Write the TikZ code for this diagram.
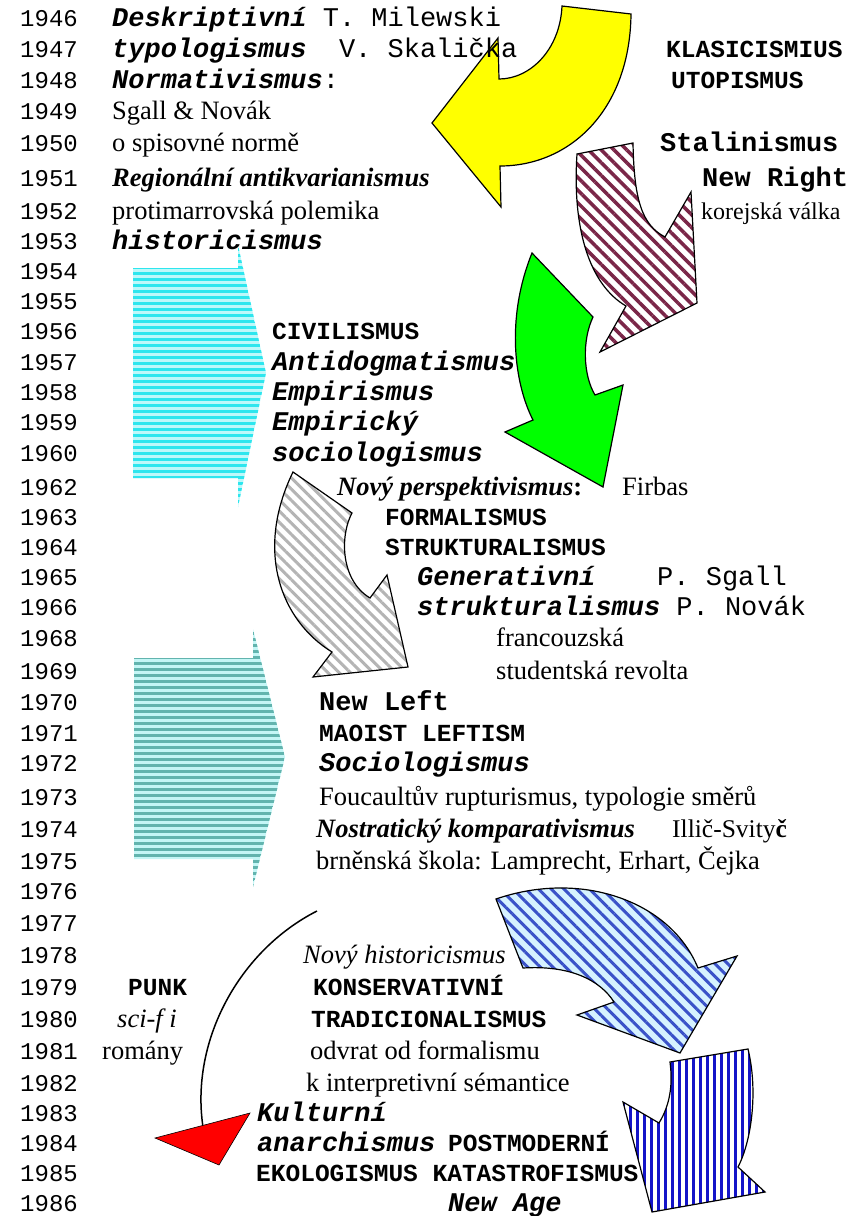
\documentclass[tikz,border=0pt]{standalone}
\usepackage{fontspec}
\setmainfont{Liberation Serif}
\setmonofont{Liberation Mono}
\usetikzlibrary{patterns.meta}

\definecolor{yell}{HTML}{FFFF00}
\definecolor{maroon}{HTML}{7A2648}
\definecolor{grn}{HTML}{00FF00}
\definecolor{stripegray}{HTML}{B4B4B4}
\definecolor{diagblue}{HTML}{3A52C8}
\definecolor{diagback}{HTML}{D6F2FF}
\definecolor{vertblue}{HTML}{1414C8}
\definecolor{cyanstripe}{HTML}{2EE6EE}
\definecolor{cyanback}{HTML}{BDF8FA}
\definecolor{tealstripe}{HTML}{62B4AE}
\definecolor{tealback}{HTML}{C4F6F6}
\definecolor{redhead}{HTML}{FF0000}

\newcommand{\bi}[1]{\textbf{\textit{#1}}}

\tikzset{
 yr/.style={anchor=base west,inner sep=0pt,font=\ttfamily\fontsize{24}{28}\selectfont},
 serif/.style={anchor=base west,inner sep=0pt,font=\rmfamily\fontsize{26.5}{30}\selectfont},
 mono/.style={anchor=base west,inner sep=0pt,font=\ttfamily\fontsize{27}{30}\selectfont},
 caps/.style={anchor=base west,inner sep=0pt,font=\ttfamily\bfseries\fontsize{24.5}{28}\selectfont},
 big/.style={anchor=base west,inner sep=0pt,font=\ttfamily\bfseries\fontsize{27}{30}\selectfont},
 outline/.style={draw=black,line width=1.2pt,line join=miter},
}

\begin{document}
\begin{tikzpicture}[x=1pt,y=-1pt]
 \useasboundingbox (0,0) rectangle (850,1216);
 % arrows
 \draw[outline,fill=yell](562,6)--(631,14) .. controls (630,110) and (570,166) .. (500,166)--(501,207)--(432,123)--(498,38)--(499,79) .. controls (530,79) and (560,50) .. (562,6)--cycle;
 \draw[outline,preaction={fill=white},pattern={Lines[angle=-45,distance=9pt,line width=3.5pt]},pattern color=maroon](577,154)--(633,143) .. controls (634,200) and (642,225) .. (665,237)--(691,192)--(697,303)--(600,352)--(626,306) .. controls (590,285) and (572,230) .. (577,154)--cycle;
 \draw[outline,fill=grn](532,253)--(593,317) .. controls (582,340) and (583,375) .. (595,395)--(623,385)--(603,487)--(505,432)--(533,420) .. controls (515,385) and (505,320) .. (532,253)--cycle;
 \draw[outline,preaction={fill=white},pattern={Lines[angle=-45,distance=8pt,line width=3pt]},pattern color=stripegray](293,472)--(352,513) .. controls (340,535) and (340,580) .. (370,598)--(387,575)--(408,667)--(313,677)--(332,652) .. controls (280,620) and (255,550) .. (293,472)--cycle;
 \draw[outline,preaction={fill=diagback},pattern={Lines[angle=-45,distance=9pt,line width=3pt]},pattern color=diagblue](496,899) .. controls (580,870) and (670,900) .. (698,968)--(737,956)--(680,1053)--(577,1015)--(614,1002) .. controls (600,980) and (570,965) .. (523,968)--cycle;
 \draw[outline,preaction={fill=white},pattern={Lines[angle=90,distance=7pt,line width=3pt]},pattern color=vertblue](670,1062)--(748,1049) .. controls (758,1090) and (752,1140) .. (738,1167)--(765,1192)--(652,1212)--(623,1102)--(659,1123) .. controls (670,1105) and (673,1085) .. (670,1062)--cycle;
 \fill[cyanback](133,268)--(238,268)--(238,245)--(266,373)--(238,507)--(238,478)--(133,478)--cycle;
 \fill[pattern={Lines[angle=0,distance=6pt,line width=3pt]},pattern color=cyanstripe](133,268)--(238,268)--(238,245)--(266,373)--(238,507)--(238,478)--(133,478)--cycle;
 \fill[tealback](134,658)--(253,658)--(253,629)--(285,757)--(253,887)--(253,859)--(134,859)--cycle;
 \fill[pattern={Lines[angle=0,distance=6pt,line width=3pt]},pattern color=tealstripe](134,658)--(253,658)--(253,629)--(285,757)--(253,887)--(253,859)--(134,859)--cycle;
 \draw[line width=1.5pt](317,911) .. controls (240,950) and (190,1040) .. (203,1127);
 \draw[fill=redhead,line width=0.6pt](155,1138)--(250,1113)--(219,1165)--cycle;
 % years
 \foreach \yr/\yb in {1946/26,1947/57,1948/88,1949/119,1950/151,1951/186,1952/219,1953/249,1954/279,1955/309,1956/339,1957/370,1958/400,1959/430,1960/461,1962/495,1963/525,1964/555,1965/585,1966/615,1968/646,1969/679,1970/710,1971/741,1972/771,1973/805,1974/837,1975/869,1976/899,1977/931,1978/963,1979/995,1980/1027,1981/1059,1982/1091,1983/1121,1984/1151,1985/1181,1986/1211}
  \node[yr] (y\yr) at (20,\yb) {\yr};
 % texts
 \node[mono] (desk) at (112,26) {\bi{Deskriptivní} T. Milewski};
 \node[mono] (typo) at (112,57) {\bi{typologismus}\ \ V. Skalička};
 \node[mono] (norm) at (112,88) {\bi{Normativismus}:};
 \node[serif] (sgall) at (112,119) {Sgall \& Novák};
 \node[serif] (spis) at (112,151) {o spisovné normě};
 \node[serif] (regio) at (112,186) {\bi{Regionální antikvarianismus}};
 \node[serif] (marr) at (112,219) {protimarrovská polemika};
 \node[mono] (histor) at (112,249) {\bi{historicismus}};
 \node[caps] (klas) at (666,57) {KLASICISMIUS};
 \node[caps] (utop) at (671,88) {UTOPISMUS};
 \node[big] (stal) at (660,151) {Stalinismus};
 \node[big] (nright) at (702,186) {New Right};
 \node[serif,font=\rmfamily\fontsize{24}{28}\selectfont] (korea) at (701,219) {korejská válka};
 \node[caps] (civil) at (272,339) {CIVILISMUS};
 \node[mono] (antid) at (272,370) {\bi{Antidogmatismus}};
 \node[mono] (empir) at (272,400) {\bi{Empirismus}};
 \node[mono] (empsoc) at (272,430) {\bi{Empirický}};
 \node[mono] (socio) at (272,461) {\bi{sociologismus}};
 \node[serif] (persp) at (337,495) {\bi{Nový perspektivismus}\textbf{:}};
 \node[serif] (firbas) at (622,495) {Firbas};
 \node[caps] (formal) at (385,525) {FORMALISMUS};
 \node[caps] (strukt) at (385,555) {STRUKTURALISMUS};
 \node[mono] (gener) at (417,585) {\bi{Generativní}};
 \node[mono] (psgall) at (657,585) {P. Sgall};
 \node[mono] (gstrukt) at (417,615) {\bi{strukturalismus} P. Novák};
 \node[serif] (franc) at (496,646) {francouzská};
 \node[serif] (revol) at (496,679) {studentská revolta};
 \node[big] (nleft) at (319,710) {New Left};
 \node[caps] (maoist) at (319,741) {MAOIST LEFTISM};
 \node[mono] (sociol) at (319,771) {\bi{Sociologismus}};
 \node[serif] (fouc) at (319,805) {Foucaultův rupturismus, typologie směrů};
 \node[serif] (nostr) at (316,837) {\bi{Nostratický komparativismus}};
 \node[serif,font=\rmfamily\fontsize{25.5}{29}\selectfont] (illic) at (672,837) {Illič-Svity\textbf{č}};
 \node[serif] (brno) at (316,869) {brněnská škola: Lamprecht, Erhart, Čejka};
 \node[serif] (nhist) at (303,963) {\textit{Nový historicismus}};
 \node[caps] (punk) at (128,995) {PUNK};
 \node[caps] (konz) at (313,995) {KONSERVATIVNÍ};
 \node[serif] (scifi) at (117,1027) {\textit{sci-f i}};
 \node[caps] (tradic) at (311,1027) {TRADICIONALISMUS};
 \node[serif] (romany) at (102,1059) {romány};
 \node[serif] (odvrat) at (310,1059) {odvrat od formalismu};
 \node[serif] (interp) at (306,1091) {k interpretivní sémantice};
 \node[mono] (kult) at (257,1121) {\bi{Kulturní}};
 \node[mono] (anarch) at (257,1151) {\bi{anarchismus}};
 \node[caps] (postm) at (448,1151) {POSTMODERNÍ};
 \node[caps] (ekol) at (256,1181) {EKOLOGISMUS KATASTROFISMUS};
 \node[mono] (nage) at (448,1211) {\bi{New Age}};
\end{tikzpicture}
\end{document}
